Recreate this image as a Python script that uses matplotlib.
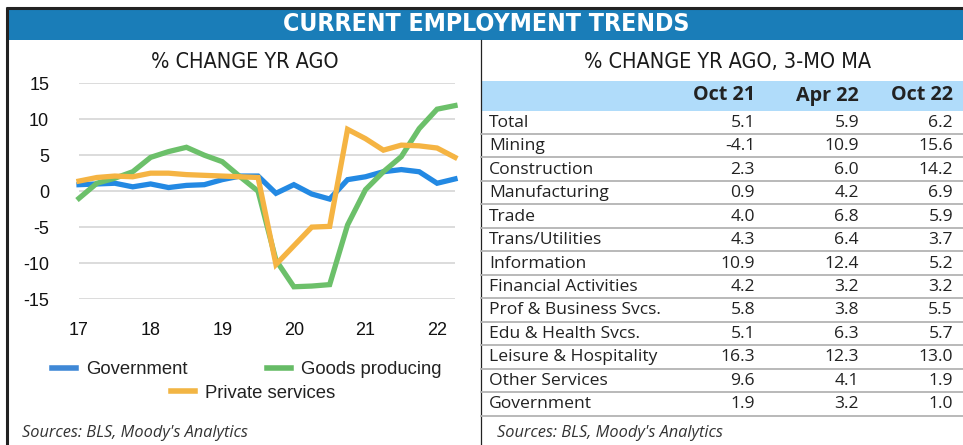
import matplotlib
matplotlib.use("Agg")
import matplotlib.pyplot as plt
from matplotlib.lines import Line2D
from matplotlib.patches import Rectangle

# ---------------- data ----------------
quarters = [17 + 0.25 * i for i in range(22)]
government = [0.9, 1.0, 1.1, 0.6, 1.0, 0.5, 0.8, 0.9, 1.6, 2.1, 2.1, -0.3,
              0.9, -0.4, -1.1, 1.6, 2.0, 2.7, 3.0, 2.7, 1.1, 1.7]
goods_producing = [-1.0, 1.1, 1.8, 2.7, 4.7, 5.5, 6.1, 5.0, 4.1, 2.0, 0.0, -9.6,
                   -13.3, -13.2, -13.0, -4.7, 0.2, 2.7, 4.8, 8.7, 11.4, 11.9]
private_services = [1.4, 1.9, 2.1, 2.0, 2.5, 2.5, 2.3, 2.2, 2.1, 2.0, 1.9, -10.2,
                    -7.6, -5.0, -4.9, 8.6, 7.3, 5.7, 6.4, 6.3, 6.0, 4.7]
series_names = ["Government", "Goods producing", "Private services"]
x_ticks = [17, 18, 19, 20, 21, 22]
y_ticks = [15, 10, 5, 0, -5, -10, -15]

table_columns = ["Oct 21", "Apr 22", "Oct 22"]
table_rows = ["Total", "Mining", "Construction", "Manufacturing", "Trade",
              "Trans/Utilities", "Information", "Financial Activities",
              "Prof & Business Svcs.", "Edu & Health Svcs.",
              "Leisure & Hospitality", "Other Services", "Government"]
oct21 = [5.1, -4.1, 2.3, 0.9, 4.0, 4.3, 10.9, 4.2, 5.8, 5.1, 16.3, 9.6, 1.9]
apr22 = [5.9, 10.9, 6.0, 4.2, 6.8, 6.4, 12.4, 3.2, 3.8, 6.3, 12.3, 4.1, 3.2]
oct22 = [6.2, 15.6, 14.2, 6.9, 5.9, 3.7, 5.2, 3.2, 5.5, 5.7, 13.0, 1.9, 1.0]

title = "CURRENT EMPLOYMENT TRENDS"
left_subtitle = "% CHANGE YR AGO"
right_subtitle = "% CHANGE YR AGO, 3-MO MA"
source = "Sources: BLS, Moody's Analytics"

# ---------------- styles ----------------
W, H = 963, 445
C_GOV = "#2389e3"
C_GOODS = "#6cc06a"
C_PRIV = "#f5b443"
C_BAR = "#1a7db8"
C_HEAD = "#b0dcfa"
TABLE_FONT = "Open Sans"

fig = plt.figure(figsize=(W / 100, H / 100), dpi=100)

# overlay in pixel coordinates
bg = fig.add_axes([0, 0, 1, 1])
bg.set_xlim(0, W)
bg.set_ylim(H, 0)
bg.axis("off")

# frame
bg.plot([6, W], [7.5, 7.5], color="#222222", lw=2.2, solid_capstyle="butt")
bg.plot([7, 7], [7, H], color="#222222", lw=2.2, solid_capstyle="butt")
bg.add_patch(Rectangle((8, 9), W - 8, 31, color=C_BAR, lw=0))
bg.plot([480.5, 480.5], [40, H], color="#222222", lw=0.9)
bg.text(486, 24, title, color="white", fontsize=17.8, fontweight="bold",
        family="DejaVu Sans", fontstretch="condensed", ha="center", va="center")

bg.text(245, 62.5, left_subtitle, fontsize=15.5, family="DejaVu Sans",
        fontstretch="condensed", ha="center", va="center", color="#1a1a1a")
bg.text(728, 62.5, right_subtitle, fontsize=15.5, family="DejaVu Sans",
        fontstretch="condensed", ha="center", va="center", color="#1a1a1a")

# table
bg.add_patch(Rectangle((481, 81), W - 481, 30, color=C_HEAD, lw=0))
col_right = [755, 859, 953]
for cx, name in zip(col_right, table_columns):
    bg.text(cx, 95.5, name, fontsize=14.2, fontweight="bold", family=TABLE_FONT,
            ha="right", va="center", color="#222222")
row_h = 23.47
top = 110.5
for i, name in enumerate(table_rows):
    y0 = top + i * row_h
    yc = y0 + row_h / 2 + 0.5
    bg.text(489, yc, name, fontsize=12.6, family=TABLE_FONT, ha="left",
            va="center", color="#222222")
    for cx, vals in zip(col_right, (oct21, apr22, oct22)):
        bg.text(cx, yc, f"{vals[i]:.1f}", fontsize=12.6, family=TABLE_FONT,
                ha="right", va="center", color="#222222")
    bg.plot([481, W], [y0 + row_h, y0 + row_h], color="#b3b3b3", lw=1.3)

bg.text(22, 433, source, fontsize=11.8, family=TABLE_FONT, style="italic",
        ha="left", va="center", color="#333333")
bg.text(497, 433, source, fontsize=11.8, family=TABLE_FONT, style="italic",
        ha="left", va="center", color="#333333")

# ---------------- line chart ----------------
ax_l, ax_r, ax_t, ax_b = 79, 455, 83.3, 299
ax = fig.add_axes([ax_l / W, 1 - ax_b / H, (ax_r - ax_l) / W, (ax_b - ax_t) / H])
ax.set_xlim(17, 22.25)
ax.set_ylim(-15, 15)
for s in ax.spines.values():
    s.set_visible(False)
ax.set_yticks(y_ticks)
ax.set_xticks(x_ticks)
ax.set_yticklabels([str(v) for v in y_ticks])
ax.set_xticklabels([str(v) for v in x_ticks])
ax.tick_params(length=0, labelsize=13, colors="#111111")
ax.tick_params(axis="y", pad=21.5)
ax.tick_params(axis="x", pad=16.5)
for lab in ax.get_yticklabels() + ax.get_xticklabels():
    lab.set_family("Liberation Sans")
ax.grid(axis="y", color="#dcdcdc", lw=1.4)
ax.set_axisbelow(True)
ax.patch.set_alpha(0)

ax.plot(quarters, government, color=C_GOV, lw=3.8, clip_on=False,
        solid_joinstyle="miter")
ax.plot(quarters, goods_producing, color=C_GOODS, lw=3.8, clip_on=False,
        solid_joinstyle="miter")
ax.plot(quarters, private_services, color=C_PRIV, lw=3.8, clip_on=False,
        solid_joinstyle="miter")

# legends
h1 = [Line2D([], [], color="#3f88d6", lw=4), Line2D([], [], color="#66bb66", lw=4)]
leg1 = fig.legend(h1, series_names[:2], loc="center left",
                  bbox_to_anchor=(52 / W, 1 - 370 / H), ncol=2, frameon=False,
                  prop={"family": "Liberation Sans", "size": 13.3},
                  handlelength=1.3, handletextpad=0.55, columnspacing=4.3,
                  borderpad=0, borderaxespad=0)
for t in leg1.get_texts():
    t.set_color("#222222")
h2 = [Line2D([], [], color="#f2b544", lw=4)]
leg2 = fig.legend(h2, series_names[2:], loc="center left",
                  bbox_to_anchor=(171 / W, 1 - 393 / H), frameon=False,
                  prop={"family": "Liberation Sans", "size": 13.3},
                  handlelength=1.3, handletextpad=0.55,
                  borderpad=0, borderaxespad=0)
for t in leg2.get_texts():
    t.set_color("#222222")

fig.savefig("out.png", dpi=100)
